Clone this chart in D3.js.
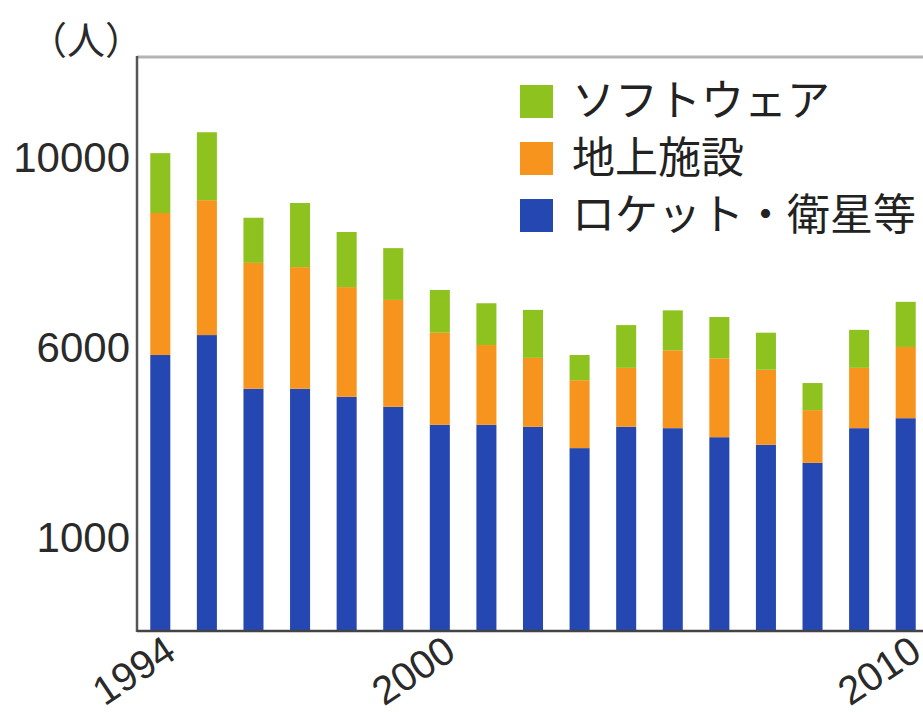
<!DOCTYPE html>
<html>
<head>
<meta charset="utf-8">
<script src="https://cdn.jsdelivr.net/npm/d3@7"></script>
<style>
  body { margin: 0; background: #fff; }
  svg { display: block; }
</style>
</head>
<body>
<div id="chart"></div>
<script>
// data (people)
var years = [1994, 1995, 1996, 1997, 1998, 1999, 2000, 2001, 2002, 2003, 2004, 2005, 2006, 2007, 2008, 2009, 2010];
var rocket = [5810, 6230, 5100, 5100, 4930, 4720, 4340, 4340, 4300, 3850, 4300, 4270, 4080, 3920, 3540, 4270, 4480];
var ground = [2990, 2840, 2650, 2560, 2310, 2250, 1940, 1680, 1450, 1430, 1240, 1640, 1660, 1580, 1110, 1270, 1500];
var software = [1260, 1430, 950, 1350, 1160, 1090, 900, 880, 1010, 530, 900, 840, 870, 780, 570, 800, 950];
var seriesNames = ["ロケット・衛星等", "地上施設", "ソフトウェア"];
var seriesColors = ["#2447b2", "#f7941e", "#8dc21f"];
var tickValues = [10000, 6000, 2000];
var tickLabels = ["10000", "6000", "1000"];
var yearLabels = [1994, 2000, 2010];

var W = 923, H = 712;
var margin = { top: 57, right: -6, bottom: 81, left: 137 };

var svg = d3.select("#chart").append("svg")
    .attr("width", W)
    .attr("height", H);

var rows = years.map(function (y, i) {
    return { year: y, rocket: rocket[i], ground: ground[i], software: software[i] };
});
var stack = d3.stack().keys(["rocket", "ground", "software"])(rows);

var x = d3.scaleBand()
    .domain(years)
    .range([margin.left, W - margin.right])
    .paddingInner(0.57)
    .paddingOuter(0.285);

var y = d3.scaleLinear()
    .domain([0, 10000])
    .range([H - margin.bottom, 156]);

// frame: top gray rule
svg.append("line")
    .attr("x1", margin.left).attr("x2", W)
    .attr("y1", margin.top).attr("y2", margin.top)
    .attr("stroke", "#b4b4b4").attr("stroke-width", 3);

// bars
svg.selectAll(".layer")
    .data(stack)
    .enter().append("g")
    .attr("class", "layer")
    .attr("fill", function (d, i) { return seriesColors[i]; })
    .selectAll("rect")
    .data(function (d) { return d; })
    .enter().append("rect")
    .attr("x", function (d) { return x(d.data.year); })
    .attr("y", function (d) { return y(d[1]); })
    .attr("width", x.bandwidth())
    .attr("height", function (d) { return y(d[0]) - y(d[1]); });

// y axis
var yAxis = svg.append("g")
    .attr("transform", "translate(" + margin.left + ",0)")
    .call(d3.axisLeft(y)
        .tickValues(tickValues)
        .tickSize(0)
        .tickPadding(7)
        .tickFormat(function (d, i) { return tickLabels[i]; }));
yAxis.select(".domain").remove();
yAxis.selectAll("text")
    .attr("fill", "#2a2a2a")
    .attr("dy", "0.36em")
    .style("font-family", "'Liberation Sans', Arial, sans-serif")
    .style("font-size", "42px");

svg.append("line")
    .attr("x1", margin.left).attr("x2", margin.left)
    .attr("y1", margin.top - 1).attr("y2", y(0) + 1)
    .attr("stroke", "#555").attr("stroke-width", 2.5);

// x axis
var xAxis = svg.append("g")
    .attr("transform", "translate(0," + y(0) + ")")
    .call(d3.axisBottom(x)
        .tickValues(yearLabels)
        .tickSize(0)
        .tickPadding(0));
xAxis.select(".domain").remove();
xAxis.selectAll("text")
    .attr("fill", "#2a2a2a")
    .attr("text-anchor", "end")
    .attr("dy", 0)
    .attr("transform", "translate(18,26) rotate(-34)")
    .style("font-family", "'Liberation Sans', Arial, sans-serif")
    .style("font-size", "40px");

svg.append("line")
    .attr("x1", margin.left).attr("x2", W)
    .attr("y1", y(0)).attr("y2", y(0))
    .attr("stroke", "#444").attr("stroke-width", 2.5);

// unit
svg.append("text")
    .attr("x", 86).attr("y", 41)
    .attr("dy", "0.35em")
    .attr("text-anchor", "middle")
    .attr("fill", "#2a2a2a")
    .style("font-family", "'Noto Sans CJK JP', sans-serif")
    .style("font-size", "38px")
    .text("（人）");

// legend (top item is software)
var legendOrder = [2, 1, 0];
var legend = svg.selectAll(".legend")
    .data(legendOrder)
    .enter().append("g")
    .attr("class", "legend")
    .attr("transform", function (d, i) { return "translate(520," + (85 + i * 57) + ")"; });

legend.append("rect")
    .attr("width", 33).attr("height", 33)
    .attr("fill", function (d) { return seriesColors[d]; });

legend.append("text")
    .attr("x", 52).attr("y", 16)
    .attr("dy", "0.36em")
    .attr("fill", "#222")
    .style("font-family", "'Noto Sans CJK JP', sans-serif")
    .style("font-size", "43px")
    .text(function (d) { return seriesNames[d]; });
</script>
</body>
</html>
